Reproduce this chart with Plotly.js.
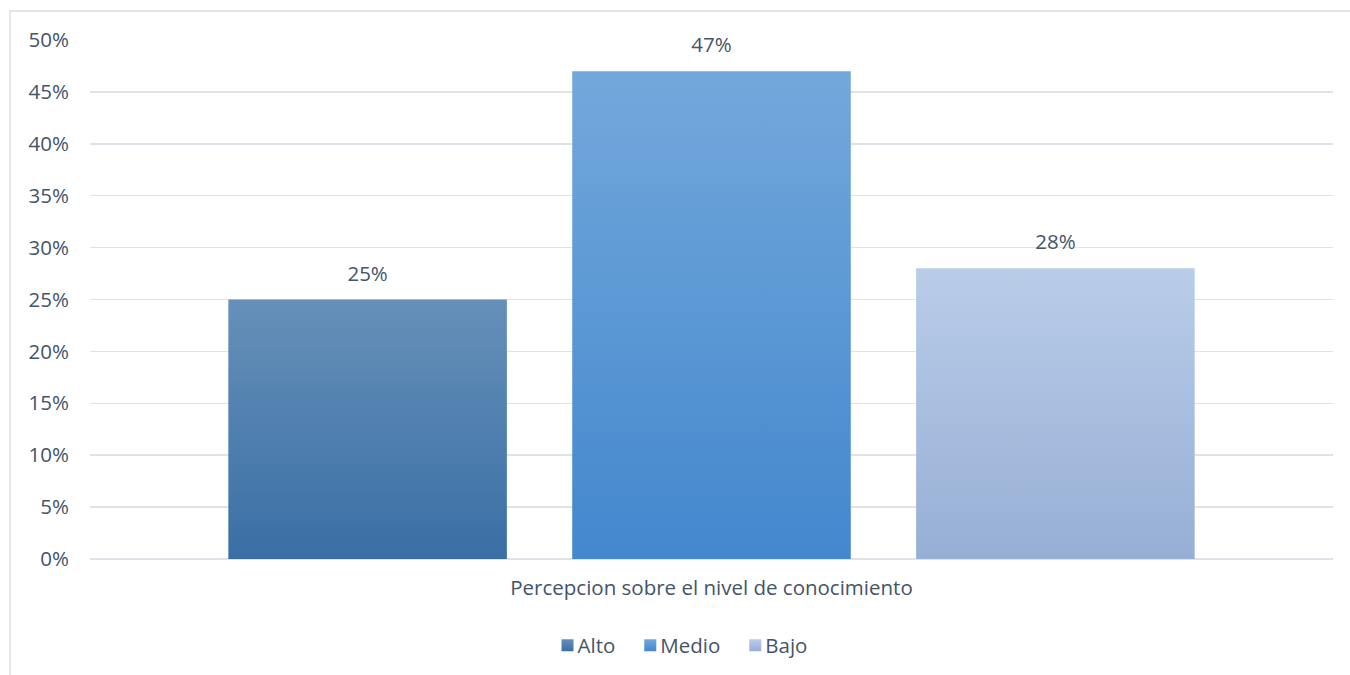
<!DOCTYPE html>
<html>
<head>
<meta charset="utf-8">
<script src="https://cdn.plot.ly/plotly-3.0.1.min.js"></script>
<style>
  body { margin: 0; padding: 0; background: #fff; }
  #chart { width: 1350px; height: 675px; }
  #frame { position: absolute; left: 9px; top: 10px; width: 1400px; height: 700px;
           border: 2px solid #e3e6ec; pointer-events: none; }
</style>
</head>
<body>
<div id="chart"></div>
<div id="frame"></div>
<script>
const category = ["Percepcion sobre el nivel de conocimiento"];
const seriesNames = ["Alto", "Medio", "Bajo"];
const alto = [0.25];
const medio = [0.47];
const bajo = [0.28];
const seriesValues = [alto, medio, bajo];
const solidColors = ["#4677ad", "#5798d8", "#a9c0e2"];
const gradTop = ["#6690b9", "#73a8dc", "#b9cde9"];
const gradBottom = ["#3a6fa5", "#4387cd", "#97afd5"];

const textColor = "#44546a";
const fontFam = "'Open Sans', 'Noto Sans', sans-serif";
const fs = 20.5;

const traces = seriesNames.map((name, i) => ({
  type: "bar",
  name: name,
  x: category,
  y: seriesValues[i],
  marker: { color: solidColors[i] },
  text: seriesValues[i].map(v => Math.round(v * 100) + "%"),
  textposition: "outside",
  textfont: { family: fontFam, size: fs, color: textColor },
  cliponaxis: false,
  hoverinfo: "none"
}));

const layout = {
  width: 1350,
  height: 675,
  margin: { l: 90, r: 17, t: 40, b: 116 },
  paper_bgcolor: "#ffffff",
  plot_bgcolor: "#ffffff",
  barmode: "group",
  bargap: 0.17,
  bargroupgap: 0.19,
  font: { family: fontFam, size: fs, color: textColor },
  xaxis: {
    showgrid: false,
    showline: false,
    ticks: "",
    tickfont: { family: fontFam, size: fs, color: textColor },
    ticklabelstandoff: 14
  },
  yaxis: {
    range: [0, 0.5],
    dtick: 0.05,
    tickformat: ".0%",
    showgrid: true,
    gridcolor: "#dfe2e8",
    gridwidth: 1.5,
    zeroline: true,
    zerolinecolor: "#dfe2e8",
    zerolinewidth: 1.5,
    showline: false,
    ticks: "",
    ticklabelstandoff: 20,
    tickfont: { family: fontFam, size: fs, color: textColor }
  },
  legend: {
    orientation: "h",
    x: 0.5,
    xref: "container",
    xanchor: "center",
    y: 0.044,
    yref: "container",
    yanchor: "middle",
    font: { family: fontFam, size: fs, color: textColor },
    itemwidth: 30,
    traceorder: "normal"
  },
  showlegend: true
};

Plotly.newPlot("chart", traces, layout, { displayModeBar: false, staticPlot: true }).then(gd => {
  const svg = gd.querySelector("svg.main-svg");
  const ns = "http://www.w3.org/2000/svg";
  let defs = svg.querySelector("defs");
  if (!defs) { defs = document.createElementNS(ns, "defs"); svg.insertBefore(defs, svg.firstChild); }
  seriesNames.forEach((n, i) => {
    const g = document.createElementNS(ns, "linearGradient");
    g.setAttribute("id", "grad" + i);
    g.setAttribute("x1", "0"); g.setAttribute("y1", "0");
    g.setAttribute("x2", "0"); g.setAttribute("y2", "1");
    const s1 = document.createElementNS(ns, "stop");
    s1.setAttribute("offset", "0%"); s1.setAttribute("stop-color", gradTop[i]);
    const s2 = document.createElementNS(ns, "stop");
    s2.setAttribute("offset", "100%"); s2.setAttribute("stop-color", gradBottom[i]);
    g.appendChild(s1); g.appendChild(s2);
    defs.appendChild(g);
  });
  gd.querySelectorAll("g.barlayer g.trace").forEach((tg, i) => {
    tg.querySelectorAll("path").forEach(p => { p.style.fill = "url(#grad" + i + ")"; });
    tg.querySelectorAll("text").forEach(t => {
      const tr = t.getAttribute("transform") || "";
      t.setAttribute("transform", "translate(0,-10) " + tr);
    });
  });
  gd.querySelectorAll("g.legend g.traces").forEach((lt, i) => {
    const pts = lt.querySelector("g.legendpoints");
    if (pts) {
      pts.setAttribute("transform", "translate(10,0)");
      pts.querySelectorAll("path").forEach(p => { p.style.fill = "url(#grad" + i + ")"; });
    }
  });
});
</script>
</body>
</html>
